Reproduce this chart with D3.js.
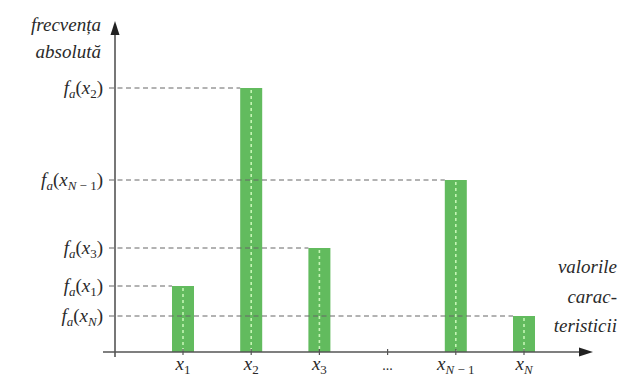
<!DOCTYPE html>
<html><head><meta charset="utf-8"><script src="https://cdn.jsdelivr.net/npm/d3@7"></script></head><body style="margin:0">
<svg id="c" width="621" height="383"></svg>
<script>
const categories = ["x1", "x2", "x3", "dots", "xN-1", "xN"];
const categoryBase = ["x", "x", "x", "...", "x", "x"];
const categorySub = ["1", "2", "3", "", "N − 1", "N"];
const values = [3.3, 13.2, 5.2, null, 8.6, 1.8];
const yLabelSub = ["1", "2", "3", "", "N − 1", "N"];
const yTitle = ["frecvența", "absolută"];
const xTitle = ["valorile", "carac-", "teristicii"];

const svg = d3.select("#c");
const x = d3.scalePoint().domain(categories).range([183, 524]);
const y = d3.scaleLinear().domain([0, 16.4]).range([352, 24]);
const barW = 22;
const axisColor = "#555";
const textColor = "#2a2a2a";

const data = categories.map((c, i) => ({c, v: values[i], base: categoryBase[i], sub: categorySub[i], ysub: yLabelSub[i]}));
const bars = data.filter(d => d.v !== null);

svg.selectAll("rect.bar").data(bars).join("rect")
  .attr("x", d => x(d.c) - barW / 2).attr("y", d => y(d.v))
  .attr("width", barW).attr("height", d => y(0) - y(d.v))
  .attr("fill", "#62bb5e");
svg.selectAll("line.center").data(bars).join("line")
  .attr("x1", d => x(d.c)).attr("x2", d => x(d.c))
  .attr("y1", d => y(d.v) + 2).attr("y2", y(0))
  .attr("stroke", "#c4f5b4").attr("stroke-width", 1.6).attr("stroke-dasharray", "3,3");

svg.selectAll("line.ref").data(bars).join("line")
  .attr("x1", 109).attr("x2", d => x(d.c) - barW / 2)
  .attr("y1", d => y(d.v)).attr("y2", d => y(d.v))
  .attr("stroke", "#666").attr("stroke-width", 1).attr("stroke-dasharray", "5,3.5");

svg.append("line").attr("x1", 115).attr("x2", 115).attr("y1", 357).attr("y2", 32)
  .attr("stroke", axisColor).attr("stroke-width", 1.6);
svg.append("path").attr("d", "M115,21 L110.5,35 L119.5,35 Z").attr("fill", "#222");
svg.append("line").attr("x1", 103).attr("x2", 584).attr("y1", y(0)).attr("y2", y(0))
  .attr("stroke", axisColor).attr("stroke-width", 1.6);
svg.append("path").attr("d", `M593,${y(0)} L579,${y(0)-4.5} L579,${y(0)+4.5} Z`).attr("fill", "#222");
svg.selectAll("line.tick").data(data).join("line")
  .attr("x1", d => x(d.c)).attr("x2", d => x(d.c))
  .attr("y1", y(0) - 3).attr("y2", y(0) + 3)
  .attr("stroke", axisColor).attr("stroke-width", 1.2);

function mk(px, x0, y0, anchor) {
  return svg.append("text").attr("x", x0).attr("y", y0).attr("text-anchor", anchor)
    .style("font-family", `"Liberation Serif"`).style("font-size", px + "px").style("fill", textColor);
}
function addSub(t, sub) {
  if (sub === "N − 1") {
    t.append("tspan").style("font-size", "13px").attr("dy", 4).style("font-style", "italic").text("N");
    t.append("tspan").style("font-size", "13px").text(" − 1");
  } else {
    t.append("tspan").style("font-size", "13px").attr("dy", 4)
      .style("font-style", sub === "N" ? "italic" : "normal").text(sub);
  }
}

bars.forEach(d => {
  const t = mk(19, 103, y(d.v) + 6, "end");
  t.append("tspan").style("font-style", "italic").text("f");
  t.append("tspan").style("font-style", "italic").style("font-size", "13px").attr("dy", 4).text("a");
  t.append("tspan").attr("dy", -4).text("(");
  t.append("tspan").style("font-style", "italic").text("x");
  addSub(t, d.ysub);
  t.append("tspan").attr("dy", -4).text(")");
});

yTitle.forEach((s, i) => mk(19, 101, 31 + i * 27, "end").style("font-style", "italic").text(s));
xTitle.forEach((s, i) => mk(19, 617, 273 + i * 29.5, "end").style("font-style", "italic").text(s));

data.forEach(d => {
  const t = mk(19, x(d.c), 370, "middle");
  if (d.base === "...") { t.style("font-size", "14px").text("..."); return; }
  t.append("tspan").style("font-style", "italic").text(d.base);
  addSub(t, d.sub);
});
</script>
</body></html>
